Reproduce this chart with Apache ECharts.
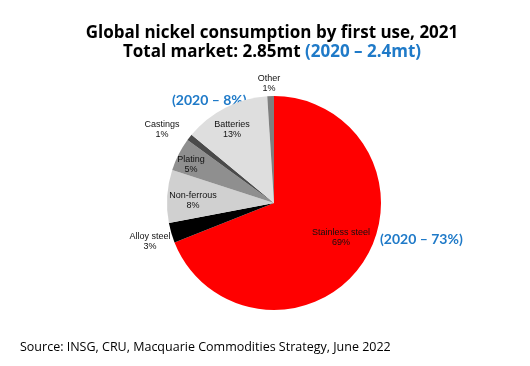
<!DOCTYPE html>
<html><head><meta charset="utf-8">
<script src="https://cdn.jsdelivr.net/npm/echarts@6/dist/echarts.min.js"></script>
<style>html,body{margin:0;padding:0;background:#fff}#c{width:530px;height:366px}</style>
</head><body><div id="c"></div>
<script>
const categories = ['Stainless steel','Alloy steel','Non-ferrous','Plating','Castings','Batteries','Other'];
const shares = [69,3,8,5,1,13,1];
const labelTexts = ['69%','3%','8%','5%','1%','13%','1%'];
const colors = ['#ff0000','#000000','#d0d0d0','#8f8f8f','#4a4a4a','#dedede','#7f7f7f'];
const labelPos = [[341,238],[150,242],[193,201],[191,165],[162,130],[232,130],[269,84]];

const chart = echarts.init(document.getElementById('c'));
chart.setOption({
  animation:false,
  title:{
    text:'Global nickel consumption by first use, 2021\n{b|Total market: 2.85mt }{c|(2020 – 2.4mt)}',
    left:267, top:19, textAlign:'center',
    textStyle:{fontFamily:'Open Sans',fontWeight:'bold',fontSize:17,color:'#000',lineHeight:19,
      rich:{b:{fontFamily:'Open Sans',fontWeight:'bold',fontSize:17,color:'#000',lineHeight:19},
            c:{fontFamily:'Open Sans',fontWeight:'bold',fontSize:17,color:'#1f7ac8',lineHeight:19}}}
  },
  graphic:[
    {type:'text',left:172,top:93,style:{text:'(2020 – 8%)',fill:'#1f7ac8',font:'bold 14px Lato'}},
    {type:'text',left:380,top:232,style:{text:'(2020 – 73%)',fill:'#1f7ac8',font:'bold 14px Lato'}},
    {type:'text',left:20,top:341,style:{text:'Source: INSG, CRU, Macquarie Commodities Strategy, June 2022',fill:'#000',font:'12.5px "Open Sans"'}}
  ],
  series:[{
    type:'pie',
    center:[274,203], radius:[0,107],
    startAngle:90, clockwise:true,
    itemStyle:{borderWidth:0},
    label:{show:true,position:'inside',fontFamily:'Liberation Sans',fontSize:9,color:'#111',lineHeight:10,
      formatter:p=>p.name+'\n'+labelTexts[p.dataIndex]},
    labelLine:{show:false},
    labelLayout:p=>({x:labelPos[p.dataIndex][0],y:labelPos[p.dataIndex][1],align:'center',verticalAlign:'middle'}),
    emphasis:{disabled:true},
    data:categories.map((n,i)=>({name:n,value:shares[i],itemStyle:{color:colors[i]}}))
  }]
});
</script></body></html>
